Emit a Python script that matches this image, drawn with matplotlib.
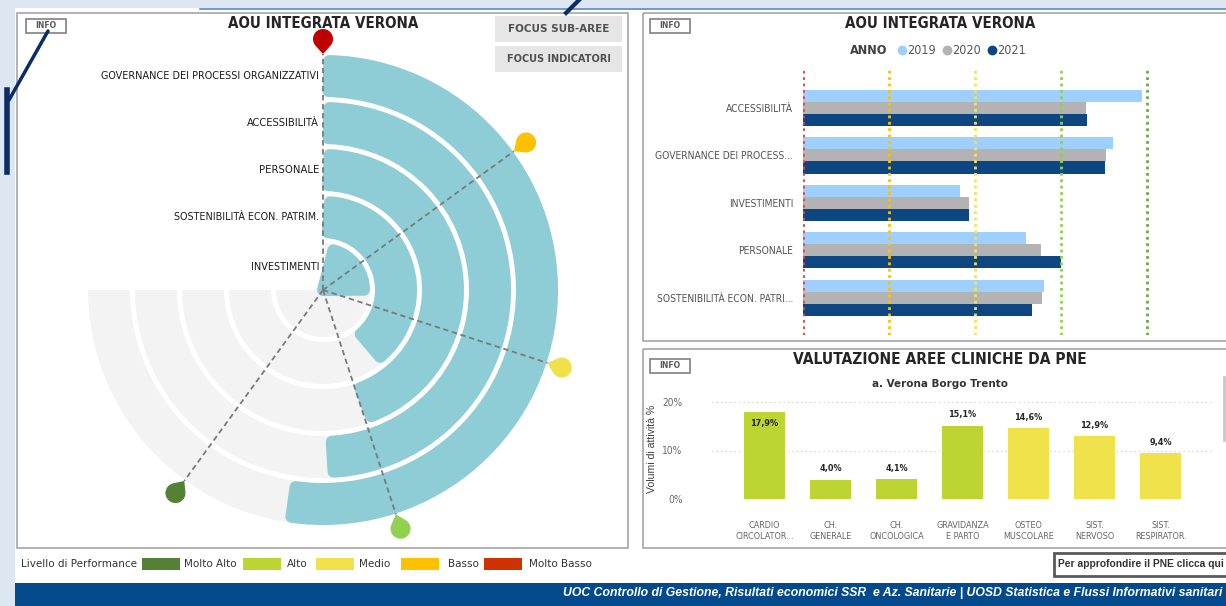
import numpy as np
import matplotlib
matplotlib.use("Agg")
import matplotlib.pyplot as plt
from matplotlib import font_manager as fm
from matplotlib.textpath import TextPath
from matplotlib.patches import Wedge, Rectangle, Polygon

W, H = 1226, 606

# --- dati: indicatori per area (scala 0-5), anni 2019-2021 ---
aree = ["ACCESSIBILITÀ", "GOVERNANCE DEI PROCESSI ORGANIZZATIVI", "INVESTIMENTI",
        "PERSONALE", "SOSTENIBILITÀ ECON. PATRIM."]
aree_barre = ["ACCESSIBILITÀ", "GOVERNANCE DEI PROCESS...", "INVESTIMENTI",
              "PERSONALE", "SOSTENIBILITÀ ECON. PATRI..."]
anni = ["2019", "2020", "2021"]
v2019 = [3.94, 3.61, 1.83, 2.60, 2.80]
v2020 = [3.29, 3.52, 1.93, 2.77, 2.78]
v2021 = [3.31, 3.51, 1.93, 3.00, 2.67]
colori_anni = ["#9fcfff", "#b3b3b3", "#0d4680"]
ordine_anelli = [1, 0, 3, 4, 2]   # dall'esterno verso il centro
scala_max = 5
soglie = [0, 1, 2, 3, 4]
colori_pin = ["#c00000", "#ffc000", "#f0e04a", "#92d050", "#548235"]
colori_linee = ["#e04848", "#ffc000", "#f3e256", "#92d050", "#70a848"]

livelli = ["Molto Alto", "Alto", "Medio", "Basso", "Molto Basso"]
colori_livelli = ["#548235", "#bdd432", "#f0e24b", "#ffc000", "#cc3300"]

# --- dati PNE ---
pne_aree = ["CARDIO\nCIRCOLATOR...", "CH.\nGENERALE", "CH.\nONCOLOGICA", "GRAVIDANZA\nE PARTO",
            "OSTEO\nMUSCOLARE", "SIST.\nNERVOSO", "SIST.\nRESPIRATOR."]
pne_volumi = [17.9, 4.0, 4.1, 15.1, 14.6, 12.9, 9.4]
pne_livello = ["Alto", "Alto", "Alto", "Alto", "Medio", "Medio", "Medio"]

TEAL = "#8ecdd5"
GRIGIO = "#f3f3f3"


# font stretto (tipo DIN) se disponibile, altrimenti Liberation Sans
def font_stretto(bold):
    pref = ["Liberation Sans Narrow", "DejaVu Sans", "Roboto", "Open Sans", "Noto Sans"]
    trovati = []
    for f in fm.fontManager.ttflist:
        stretto = (f.stretch in ("condensed", "semi-condensed", "extra-condensed")
                   or "Narrow" in f.name or "Condensed" in f.name
                   or "Condensed" in f.fname or "Narrow" in f.fname)
        w = f.weight if isinstance(f.weight, int) else fm.weight_dict.get(f.weight, 400)
        if stretto and f.style == "normal" and ((w >= 600) == bold) and "CJK" not in f.name:
            rank = pref.index(f.name) if f.name in pref else len(pref)
            trovati.append((rank, f.fname))
    if trovati:
        return fm.FontProperties(fname=sorted(trovati)[0][1])
    return fm.FontProperties(family="Liberation Sans", weight="bold" if bold else "normal")


FB = font_stretto(True)
FR = font_stretto(False)
FSANS = fm.FontProperties(family="Liberation Sans")
FSANSB = fm.FontProperties(family="Liberation Sans", weight="bold")
FVER = fm.FontProperties(family="DejaVu Sans")
FFOOT = fm.FontProperties(family="Liberation Sans", weight="bold", style="italic")


def corpo(s, fp, px):
    # corpo (pt) perche' il testo occupi px pixel in larghezza
    w = TextPath((0, 0), s, size=10, prop=fp).get_extents().width
    return 10 * px / (w * 100 / 72)


def prop(fp, size):
    p = fp.copy()
    p.set_size(size)
    return p


def scrivi(ax, x, y, s, fp, px, **kw):
    return ax.text(x, y, s, fontproperties=prop(fp, corpo(s, fp, px)), **kw)


def box(x0, y0, x1, y1):
    # rettangolo in pixel (origine in alto a sinistra) -> coordinate figura
    return [x0 / W, 1 - y1 / H, (x1 - x0) / W, (y1 - y0) / H]


fig = plt.figure(figsize=(W / 100, H / 100), dpi=100, facecolor="#dde7f2")
bg = fig.add_axes([0, 0, 1, 1])
bg.set_xlim(0, W)
bg.set_ylim(H, 0)
bg.axis("off")

bg.add_patch(Rectangle((15, 8), W - 15, H - 8, fc="white", ec="none"))
bg.plot([200, W], [8.5, 8.5], color="#5a87c2", lw=1.2)
for x, y, w, h in [(16.5, 12.5, 611, 535), (642.5, 12.5, 600, 328), (642.5, 348.5, 600, 199)]:
    bg.add_patch(Rectangle((x, y), w, h, fill=False, ec="#a6a6a6", lw=1.2))

# tratti a mano (frecce)
bg.plot([48, 9], [31, 100], color="#0c2c66", lw=2.5, solid_capstyle="round")
bg.plot([7, 7], [90, 172], color="#0c2c66", lw=4)
bg.plot([566, 579], [13, 0], color="#0c2c66", lw=3)

# pulsanti INFO
for x, y in [(25.5, 18.5), (649.5, 18.5), (649.5, 358.5)]:
    bg.add_patch(Rectangle((x, y), 40, 14, fc="white", ec="#808080", lw=1.2))
    scrivi(bg, x + 20, y + 7.5, "INFO", FB, 20, ha="center", va="center", color="#595959")

for y, t, lw_ in [(16, "FOCUS SUB-AREE", 99), (46, "FOCUS INDICATORI", 103)]:
    bg.add_patch(Rectangle((495, y), 127, 26, fc="#e6e6e6", ec="none"))
    scrivi(bg, 558.5, y + 13.5, t, FB, lw_, ha="center", va="center", color="#505050")

scrivi(bg, 323, 23, "AOU INTEGRATA VERONA", FB, 189, ha="center", va="center", color="#252525")
scrivi(bg, 940, 23, "AOU INTEGRATA VERONA", FB, 190, ha="center", va="center", color="#252525")

# --- grafico radiale ---
R = 270
cx, cy = 323, 290
axr = fig.add_axes(box(cx - R, cy - R, cx + R, cy + R))
axr.set_xlim(-R, R)
axr.set_ylim(-R, R)
axr.set_aspect("equal")
axr.axis("off")
axr.patch.set_alpha(0)

r_est, passo, spess, rc = 235, 47, 42, 6
lw_pt = 2 * rc * 72 / 100
larg_etich = [216, 72, 59, 143, 66]
for i, idx in enumerate(ordine_anelli):
    ro = r_est - passo * i
    ultimo = i == len(ordine_anelli) - 1
    w = ro if ultimo else spess
    axr.add_patch(Wedge((0, 0), ro, -180, 90, width=w, fc=GRIGIO, ec="none", zorder=1))
    ang = v2021[idx] / scala_max * 270
    r_mid = ro - w / 2
    dang = np.degrees(rc / r_mid)
    w2 = ro - rc if ultimo else w - 2 * rc
    axr.add_patch(Wedge((0, 0), ro - rc, 90 - ang + dang, 90 - dang, width=w2,
                        fc=TEAL, ec=TEAL, lw=lw_pt, joinstyle="round", zorder=2))
    scrivi(axr, -4, r_mid, aree[idx], FR, larg_etich[i], ha="right", va="center",
           color="#1a1a1a")

for s, c in zip(soglie, colori_pin):
    a = np.radians(90 - s / scala_max * 270)
    e = np.array([np.cos(a), np.sin(a)])
    n = np.array([-np.sin(a), np.cos(a)])
    rt = 236
    axr.plot([0, rt * e[0]], [0, rt * e[1]], color="#7a7a7a", lw=1.3,
             ls=(0, (3, 2)), zorder=3)
    d, rr = 15, 10
    b = np.arccos(rr / d)
    t = np.linspace(np.pi - b, -(np.pi - b), 50)
    u = np.concatenate([[0], d + rr * np.cos(t)])
    v = np.concatenate([[0], rr * np.sin(t)])
    pts = [rt * e + uu * e + vv * n for uu, vv in zip(u, v)]
    axr.add_patch(Polygon(pts, closed=True, fc=c, ec="none", zorder=4))

# --- barre orizzontali per anno ---
unit = 85.95
axb = fig.add_axes(box(803, 70, 1226, 335))
axb.patch.set_alpha(0)
axb.set_xlim(0, (1226 - 803) / unit)
axb.set_ylim(4.78, -0.8)
y = np.arange(len(aree))
hb = 0.253
for k, (vals, col) in enumerate(zip([v2019, v2020, v2021], colori_anni)):
    axb.barh(y + (k - 1) * hb, vals, height=hb, color=col, lw=0, zorder=2)
for s, c in zip(soglie, colori_linee):
    axb.axvline(s, color=c, lw=2, ls=(0, (1, 1.3)), zorder=3)
axb.set_yticks(y)
axb.set_yticklabels(aree_barre, fontproperties=prop(FR, corpo(aree_barre[1], FR, 137)),
                    color="#555555")
axb.tick_params(axis="y", length=0, pad=7)
axb.set_xticks([])
for sp in axb.spines.values():
    sp.set_visible(False)

scrivi(bg, 850, 50, "ANNO", FB, 37, ha="left", va="center", color="#404040")
p_anno = prop(FR, corpo("2019", FR, 27))
for k, (a, col) in enumerate(zip(anni, colori_anni)):
    xm = 901.5 + 45 * k
    bg.scatter([xm], [50], s=50, color=col, lw=0, zorder=5)
    bg.text(xm + 6, 50, a, fontproperties=p_anno, ha="left", va="center", color="#555555")

# --- PNE ---
scrivi(bg, 940, 359, "VALUTAZIONE AREE CLINICHE DA PNE", FB, 292, ha="center", va="center",
       color="#252525")
scrivi(bg, 940, 384, "a. Verona Borgo Trento", FB, 133, ha="center", va="center",
       color="#333333")
scrivi(bg, 652, 449, "Volumi di attività %", FSANS, 88, rotation=90, ha="center",
       va="center", color="#404040")
bg.plot([1224, 1224], [377, 440], color="#c8c8c8", lw=2)

pxu = 4.85
axp = fig.add_axes(box(711.7, 499 - 21.5 * pxu, 1213.3, 499))
axp.patch.set_alpha(0)
axp.set_xlim(-0.8, 6.8)
axp.set_ylim(0, 21.5)
xp = np.arange(len(pne_aree))
col_p = [colori_livelli[livelli.index(l)] for l in pne_livello]
axp.bar(xp, pne_volumi, width=0.62, color=col_p, lw=0, zorder=2)
p_val = prop(FB, corpo("15,1%", FB, 27))
for xi, v in zip(xp, pne_volumi):
    lab = f"{v:.1f}%".replace(".", ",")
    off = -11 if v > 16 else 11
    axp.annotate(lab, (xi, v), xytext=(0, off * 0.72), textcoords="offset points",
                 ha="center", va="center", fontproperties=p_val, color="#252525", zorder=3)
axp.set_yticks([0, 10, 20])
axp.set_yticklabels(["0%", "10%", "20%"], fontproperties=prop(FR, corpo("20%", FR, 19)),
                    color="#666666")
axp.tick_params(axis="y", length=0, pad=21)
axp.set_xticks(xp)
axp.set_xticklabels(pne_aree, fontproperties=prop(FR, corpo("CIRCOLATOR...", FR, 58)),
                    color="#666666", linespacing=1.2)
axp.tick_params(axis="x", length=0, pad=16)
axp.grid(axis="y", color="#c8c8c8", lw=0.8, ls=(0, (1, 3)), zorder=0)
for sp in axp.spines.values():
    sp.set_visible(False)

# --- legenda livelli ---
p_leg = prop(FVER, corpo("Livello di Performance", FVER, 114))
bg.text(21, 564, "Livello di Performance", fontproperties=p_leg, ha="left", va="center",
        color="#333333")
pos_box = [142, 243, 315.5, 401, 484]
pos_txt = [184.5, 287, 359, 448, 529]
for l, c, xb, xt in zip(livelli, colori_livelli, pos_box, pos_txt):
    bg.add_patch(Rectangle((xb, 558), 38, 12, fc=c, ec="none"))
    bg.text(xt, 564, l, fontproperties=p_leg, ha="left", va="center", color="#333333")

bg.add_patch(Rectangle((1053.5, 552.5), 180, 23, fc="white", ec="#595959", lw=2))
scrivi(bg, 1058, 564, "Per approfondire il PNE clicca qui", FSANSB, 163,
       ha="left", va="center", color="#333333")

# --- piede ---
bg.add_patch(Rectangle((15, 583), W - 15, 23, fc="#034a8c", ec="none"))
scrivi(bg, 1222, 593, "UOC Controllo di Gestione, Risultati economici SSR  e Az. Sanitarie | "
       "UOSD Statistica e Flussi Informativi sanitari", FFOOT, 656, ha="right", va="center",
       color="white")

fig.savefig("out.png", dpi=100, facecolor=fig.get_facecolor())
